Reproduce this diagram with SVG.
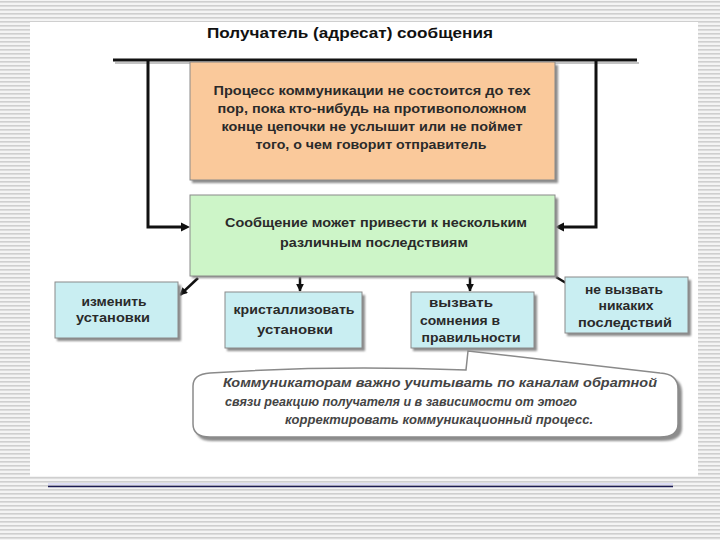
<svg xmlns="http://www.w3.org/2000/svg" width="720" height="540" viewBox="0 0 720 540">
<defs>
  <pattern id="stripes" x="0" y="0" width="8" height="4" patternUnits="userSpaceOnUse">
    <rect width="8" height="4" fill="#f4f4f4"/>
    <rect y="1" width="8" height="1.6" fill="#cfcfcf"/>
  </pattern>
  <marker id="ah" viewBox="0 0 10 10" refX="9" refY="5" markerWidth="3.2" markerHeight="3.2" orient="auto" markerUnits="strokeWidth">
    <path d="M0,0 L10,5 L0,10 z" fill="#111"/>
  </marker>
  <filter id="blur" x="-5%" y="-5%" width="110%" height="120%">
    <feGaussianBlur stdDeviation="1.2"/>
  </filter>
</defs>
<style>
  .t { font-family: "Liberation Sans", Arial, sans-serif; font-weight: bold; fill: #2a2a2a; text-anchor: middle; }
  .title { font-size: 15px; fill: #111; }
  .big { font-size: 12.5px; }
  .sm { font-size: 12px; }
  .it { font-family: "Liberation Sans", Arial, sans-serif; font-style: italic; font-weight: bold; font-size: 12px; fill: #444; text-anchor: middle; }
  .box { stroke: #8a8a8a; stroke-width: 1; }
  .shadow { fill: #8c8c8c; filter: url(#blur); }
  .conn { stroke: #111; stroke-width: 3; fill: none; }
  .arr { stroke: #111; stroke-width: 2.5; fill: none; marker-end: url(#ah); }
</style>

<!-- slide background -->
<rect width="720" height="540" fill="url(#stripes)"/>
<rect x="30" y="22" width="668" height="454" fill="#ffffff"/>
<line x1="48" y1="484" x2="673" y2="484" stroke="#dcdcf5" stroke-width="2"/>
<line x1="48" y1="486.5" x2="673" y2="486.5" stroke="#1c1c55" stroke-width="1.5"/>

<text class="t title" x="350" y="38" textLength="286" lengthAdjust="spacingAndGlyphs">Получатель (адресат) сообщения</text>

<g id="connectors">
  <line x1="113" y1="60" x2="637" y2="60" stroke="#888" stroke-width="2" transform="translate(2,3)" opacity="0.5"/>
  <line class="conn" x1="113" y1="60" x2="637" y2="60"/>
  <polyline class="conn" points="148,60 148,227 184,227"/>
  <path d="M190,227 L181,222.5 L181,231.5 z" fill="#111"/>
  <polyline class="conn" points="596,60 596,227 561,227"/>
  <path d="M555,227 L564,222.5 L564,231.5 z" fill="#111"/>
  <line class="arr" x1="198" y1="278" x2="180" y2="295"/>
  <line class="arr" x1="300" y1="277" x2="300" y2="291"/>
  <line class="arr" x1="470" y1="277" x2="470" y2="291"/>
  <line class="arr" x1="556" y1="277" x2="576" y2="289"/>
</g>

<g id="node-orange">
  <rect class="shadow" x="192" y="65" width="366" height="118"/>
  <rect class="box" x="190" y="62" width="365" height="118" fill="#fac99b"/>
  <text class="t big" x="372" y="95" textLength="317" lengthAdjust="spacingAndGlyphs">Процесс коммуникации не состоится до тех</text>
  <text class="t big" x="372" y="113" textLength="309" lengthAdjust="spacingAndGlyphs">пор, пока кто-нибудь на противоположном</text>
  <text class="t big" x="372" y="131" textLength="301" lengthAdjust="spacingAndGlyphs">конце цепочки не услышит или не поймет</text>
  <text class="t big" x="371" y="149" textLength="231" lengthAdjust="spacingAndGlyphs">того, о чем говорит отправитель</text>
</g>

<g id="node-green">
  <rect class="shadow" x="192" y="198" width="366" height="80"/>
  <rect class="box" x="190" y="195" width="365" height="81" fill="#cdf5c8"/>
  <text class="t big" x="376" y="227" textLength="302" lengthAdjust="spacingAndGlyphs">Сообщение может привести к нескольким</text>
  <text class="t big" x="374" y="247" textLength="188" lengthAdjust="spacingAndGlyphs">различным последствиям</text>
</g>

<g id="node-change">
  <rect class="shadow" x="57" y="285" width="124" height="56"/>
  <rect class="box" x="55" y="282" width="123" height="56" fill="#c9eef2"/>
  <text class="t sm" x="114" y="306" textLength="65" lengthAdjust="spacingAndGlyphs">изменить</text>
  <text class="t sm" x="113" y="322" textLength="74" lengthAdjust="spacingAndGlyphs">установки</text>
</g>

<g id="node-crystallize">
  <rect class="shadow" x="227" y="295" width="138" height="56"/>
  <rect class="box" x="225" y="292" width="137" height="56" fill="#c9eef2"/>
  <text class="t sm" x="294" y="314" textLength="121" lengthAdjust="spacingAndGlyphs">кристаллизовать</text>
  <text class="t sm" x="295" y="334" textLength="76" lengthAdjust="spacingAndGlyphs">установки</text>
</g>

<g id="node-doubt">
  <rect class="shadow" x="413" y="295" width="124" height="56"/>
  <rect class="box" x="411" y="292" width="123" height="56" fill="#c9eef2"/>
  <text class="t sm" x="461" y="307" textLength="64" lengthAdjust="spacingAndGlyphs">вызвать</text>
  <text class="t sm" x="460" y="325" textLength="80" lengthAdjust="spacingAndGlyphs">сомнения в</text>
  <text class="t sm" x="471" y="342" textLength="99" lengthAdjust="spacingAndGlyphs">правильности</text>
</g>

<g id="node-none">
  <rect class="shadow" x="567" y="280" width="124" height="56"/>
  <rect class="box" x="565" y="277" width="123" height="56" fill="#c9eef2"/>
  <text class="t sm" x="624" y="294" textLength="78" lengthAdjust="spacingAndGlyphs">не вызвать</text>
  <text class="t sm" x="626" y="310" textLength="55" lengthAdjust="spacingAndGlyphs">никаких</text>
  <text class="t sm" x="625" y="327" textLength="94" lengthAdjust="spacingAndGlyphs">последствий</text>
</g>

<g id="node-callout">
  <path class="shadow" d="M212,376 Q330,368 466,373 L470,354 L662,376 Q682,377 682,392 L682,428 Q682,441 662,441 L212,441 Q196,441 196,428 L196,390 Q196,377 212,376 z"/>
  <path d="M210,373 Q330,365 466,370 L468,351 L660,373 Q678,374 678,389 L678,424 Q678,437 660,437 L210,437 Q193,437 193,424 L193,386 Q193,374 210,373 z" fill="#ffffff" stroke="#8a8a8a" stroke-width="1.5"/>
  <text class="it" x="440" y="387" textLength="434" lengthAdjust="spacingAndGlyphs">Коммуникаторам важно учитывать по каналам обратной</text>
  <text class="it" x="401" y="406" textLength="352" lengthAdjust="spacingAndGlyphs">связи реакцию получателя и в зависимости от этого</text>
  <text class="it" x="439" y="424" textLength="308" lengthAdjust="spacingAndGlyphs">корректировать коммуникационный процесс.</text>
</g>
</svg>
